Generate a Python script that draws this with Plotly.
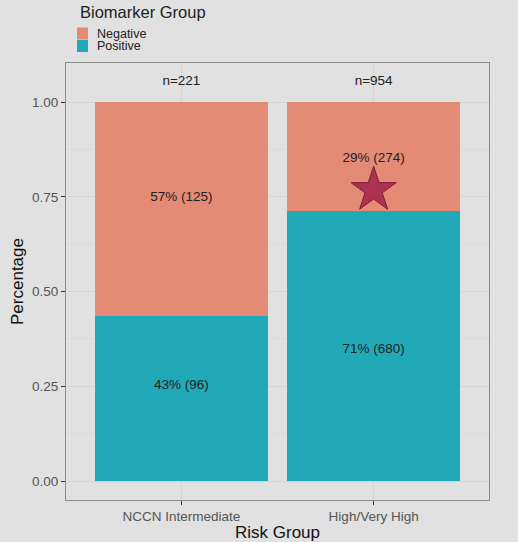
import plotly.graph_objects as go

# data
risk_groups = ["NCCN Intermediate", "High/Very High"]
neg_counts = [125, 274]
pos_counts = [96, 680]
totals = [221, 954]
neg_label_y = [0.749, 0.85]
pos_label_y = [0.253, 0.348]
star_group = ["High/Very High"]
star_y = [0.768]

legend_names = ["Negative", "Positive"]
legend_colors = ["#e38b75", "#22a9b7"]

neg_share = [n / t for n, t in zip(neg_counts, totals)]
pos_share = [p / t for p, t in zip(pos_counts, totals)]

font_family = "Liberation Sans, Arial, sans-serif"
W, H = 518, 542
BG = "#e0e1e0"

fig = go.Figure()
fig.add_trace(go.Bar(x=risk_groups, y=pos_share, name="Positive", marker_color=legend_colors[1],
                     marker_line_width=0, width=0.9))
fig.add_trace(go.Bar(x=risk_groups, y=neg_share, name="Negative", marker_color=legend_colors[0],
                     marker_line_width=0, width=0.9))

# segment labels
fig.add_trace(go.Scatter(x=risk_groups, y=neg_label_y, mode="text",
                         text=[f"{round(s*100)}% ({n})" for s, n in zip(neg_share, neg_counts)],
                         textfont=dict(size=13.5, color="#222222"), hoverinfo="skip"))
fig.add_trace(go.Scatter(x=risk_groups, y=pos_label_y, mode="text",
                         text=[f"{round(s*100)}% ({p})" for s, p in zip(pos_share, pos_counts)],
                         textfont=dict(size=13.5, color="#222222"), hoverinfo="skip"))
# n= labels
fig.add_trace(go.Scatter(x=risk_groups, y=[1.053] * len(totals), mode="text",
                         text=[f"n={t}" for t in totals],
                         textfont=dict(size=13.5, color="#222222"), hoverinfo="skip"))
# star
fig.add_trace(go.Scatter(x=star_group, y=star_y, mode="markers",
                         marker=dict(symbol="star", size=34, color="#ab3250",
                                     line=dict(color="#7d1d38", width=1))))

# hand-drawn legend (ggplot style, tight rows)
PW, PH = W - 66 - 29, H - 63 - 42
fig.add_annotation(text="Biomarker Group", xref="paper", yref="paper",
                   x=(78 - 66) / PW, y=1 + (63 - 12) / PH,
                   xanchor="left", yanchor="middle", showarrow=False,
                   font=dict(size=16.5, color="#222222"))
for i, (name, col) in enumerate(zip(legend_names, legend_colors)):
    yc = 33.5 + 12.5 * i
    fig.add_shape(type="rect", xref="paper", yref="paper",
                  x0=(77 - 66) / PW, x1=(88 - 66) / PW,
                  y0=1 + (63 - yc - 6) / PH, y1=1 + (63 - yc + 6) / PH,
                  fillcolor=col, line_width=0)
    fig.add_annotation(text=name, xref="paper", yref="paper",
                       x=(96 - 66) / PW, y=1 + (63 - yc) / PH,
                       xanchor="left", yanchor="middle", showarrow=False, borderpad=0,
                       font=dict(size=12.5, color="#222222"))

fig.update_layout(
    barmode="stack",
    width=W, height=H,
    margin=dict(l=66, r=29, t=63, b=42, autoexpand=False),
    paper_bgcolor=BG,
    plot_bgcolor=BG,
    font=dict(family=font_family, size=13, color="#222222"),
    showlegend=False,
)

fig.update_xaxes(range=[-0.6, 1.6], showline=True, mirror=True, linecolor="#8a8a8a", linewidth=1,
                 showgrid=True, gridcolor="#d3d4d3", gridwidth=1,
                 ticks="outside", ticklen=4, tickcolor="#333333",
                 tickfont=dict(size=13.5, color="#555555"),
                 title=dict(text="Risk Group", font=dict(size=17, color="#111111"), standoff=4))
fig.update_yaxes(range=[-0.05, 1.103], showline=True, mirror=True, linecolor="#8a8a8a", linewidth=1,
                 tickvals=[0, 0.25, 0.5, 0.75, 1.0], tickformat=".2f",
                 showgrid=True, gridcolor="#d3d4d3", gridwidth=1, zeroline=False,
                 minor=dict(tickvals=[0.125, 0.375, 0.625, 0.875], showgrid=True,
                            gridcolor="#d9dad9", gridwidth=1, ticks=""),
                 ticks="outside", ticklen=4, tickcolor="#333333",
                 tickfont=dict(size=13.5, color="#555555"),
                 title=dict(text="Percentage", font=dict(size=17, color="#111111"), standoff=4))

# drop the default page margin so the figure sits at the window's corner
fig.write_html("out.html", config={"displayModeBar": False},
               post_script="document.body.style.margin='0';document.body.style.background='%s';" % BG)
